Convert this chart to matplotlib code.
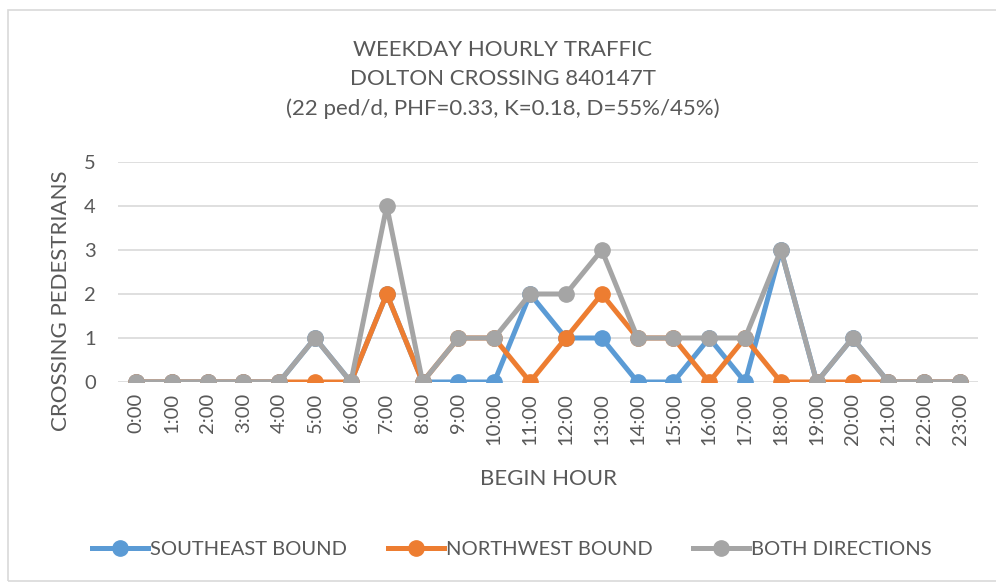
import matplotlib
matplotlib.use("Agg")
import matplotlib.pyplot as plt
import numpy as np

hours = [f"{h}:00" for h in range(24)]
southeast = [0, 0, 0, 0, 0, 1, 0, 2, 0, 0, 0, 2, 1, 1, 0, 0, 1, 0, 3, 0, 1, 0, 0, 0]
northwest = [0, 0, 0, 0, 0, 0, 0, 2, 0, 1, 1, 0, 1, 2, 1, 1, 0, 1, 0, 0, 0, 0, 0, 0]
both = [0, 0, 0, 0, 0, 1, 0, 4, 0, 1, 1, 2, 2, 3, 1, 1, 1, 1, 3, 0, 1, 0, 0, 0]

TEXT = "#595959"
plt.rcParams["font.family"] = ["Lato", "DejaVu Sans"]

fig = plt.figure(figsize=(9.96, 5.83), dpi=100)
ax = fig.add_axes([118 / 996, 201 / 583, 860 / 996, 220 / 583])

# outer chart frame
fig.patches.append(plt.Rectangle((8 / 996, 2 / 583), 1.0, 571 / 583, transform=fig.transFigure,
                                 fill=False, edgecolor="#D9D9D9", lw=1.2))

xs = np.arange(len(hours))
series = [(southeast, "#5B9BD5", "SOUTHEAST BOUND"),
          (northwest, "#ED7D31", "NORTHWEST BOUND"),
          (both, "#A5A5A5", "BOTH DIRECTIONS")]
for vals, c, lab in series:
    ax.plot(xs, vals, color=c, lw=3.6, marker="o", ms=11, label=lab, solid_joinstyle="round")

ax.set_xlim(-0.5, 23.5)
ax.set_ylim(0, 5)
ax.set_yticks(range(6))
ax.set_xticks(xs)
ax.set_xticklabels(hours, rotation=90)
ax.tick_params(axis="both", length=0, colors=TEXT, labelsize=14.5)
ax.tick_params(axis="y", pad=16)
ax.tick_params(axis="x", pad=8)
ax.grid(axis="y", color="#D9D9D9", lw=1.2)
ax.set_axisbelow(True)
for s in ax.spines.values():
    s.set_visible(False)

ax.set_xlabel("BEGIN HOUR", color=TEXT, fontsize=16, labelpad=17)
ax.set_ylabel("CROSSING PEDESTRIANS", color=TEXT, fontsize=16)
ax.yaxis.set_label_coords(-0.055, 0.37)

fig.text(0.505, 0.932, "WEEKDAY HOURLY TRAFFIC\nDOLTON CROSSING 840147T\n(22 ped/d, PHF=0.33, K=0.18, D=55%/45%)",
         ha="center", va="top", color=TEXT, fontsize=16, linespacing=1.58)

leg = fig.legend(loc="center", bbox_to_anchor=(0.514, 0.058), ncol=3, frameon=False,
                 fontsize=14.5, handlelength=2.8, handletextpad=0.1, columnspacing=2.0)
for t in leg.get_texts():
    t.set_color(TEXT)

fig.savefig("out.png", dpi=100)
